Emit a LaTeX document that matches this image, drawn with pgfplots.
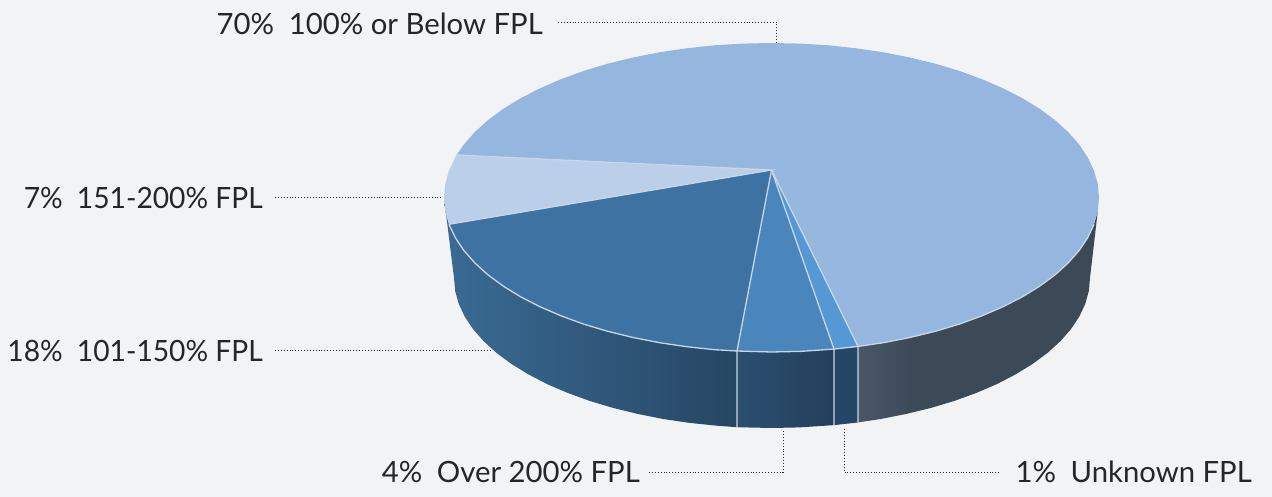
\documentclass[border=0pt]{standalone}
\usepackage{fontspec}
\setmainfont{Lato}
\usepackage{graphicx}
\usepackage{pgfplots}
\pgfplotsset{compat=1.18}
\definecolor{bg}{HTML}{F2F3F5}
\definecolor{big}{HTML}{95B6DF}
\definecolor{light}{HTML}{BBCFE8}
\definecolor{dark}{HTML}{3E72A3}
\definecolor{mid}{HTML}{4A85BC}
\definecolor{small}{HTML}{5698D4}
\definecolor{rim}{HTML}{C9D6E6}
\definecolor{ink}{HTML}{262626}
\definecolor{wallA}{HTML}{3A6B94}
\definecolor{wallB}{HTML}{264663}
\definecolor{wallC}{HTML}{2B4F70}
\definecolor{wallD}{HTML}{243F5B}
\definecolor{wallE}{HTML}{244667}
\definecolor{wallF}{HTML}{4B5769}
\definecolor{wallG}{HTML}{3C4A58}
\pgfdeclarehorizontalshading{bigwall}{100bp}{color(0bp)=(wallF); color(25bp)=(wallF); color(36bp)=(wallG); color(100bp)=(wallG)}
\tikzset{
    leader/.style={draw=ink, line width=0.9pt, dash pattern=on 0.9pt off 2pt},
    lab/.style={text=ink, font=\fontsize{29.3}{31}\selectfont, inner sep=0pt},
    edge/.style={draw=rim, line width=1.3pt},
}
\begin{document}
\begin{tikzpicture}
\begin{axis}[
    hide axis, scale only axis, width=1272pt, height=497pt,
    xmin=0, xmax=1272, ymin=0, ymax=497, y dir=reverse,
    no markers, enlargelimits=false,
]
\fill[bg] (axis cs:0,0) rectangle (axis cs:1272,497);

% side wall, 18%
\addplot[draw=none, left color=wallA, right color=wallB] coordinates {
 (444,197.5)(445.2,211)(449,224.3)(455.2,237.5)(463.7,250.3)(474.7,262.8)(487.9,274.8)(503.2,286.1)
 (520.6,296.8)(539.9,306.7)(561,315.8)(583.6,324.1)(607.7,331.3)(633.1,337.5)(659.5,342.7)(686.7,346.7)
 (714.6,349.7)(737,351)(737,427.2)(716.8,425.7)(689.7,422.9)(663.2,419)(637.6,413.9)(613,407.9)
 (589.6,400.9)(567.6,392.9)(547.1,384.1)(528.4,374.4)(511.5,364)(496.6,353)(483.8,341.4)(473.2,329.3)
 (464.8,316.8)(458.8,304)(455.2,291.1)(454,278)
} -- cycle;
% side wall, 4%
\addplot[draw=none, left color=wallC, right color=wallD] coordinates {
 (737,351)(742.9,351.4)(771.5,352)(800.1,351.4)(834,349.1)(834,425.1)(799.7,427.4)(772,428)(744.3,427.4)(737,427.2)
} -- cycle;
% side wall, 1%
\addplot[draw=none, fill=wallE] coordinates {
 (834,349.1)(856.3,346.7)(858,346.4)(858,422.4)(854.3,422.9)(834,425.1)
} -- cycle;
% side wall, 70%
\addplot[draw=none, shading=bigwall] coordinates {
 (858,346.4)(883.5,342.7)(909.9,337.5)(935.3,331.3)(959.4,324.1)(982,315.8)(1003.1,306.7)(1022.4,296.8)
 (1039.8,286.1)(1055.1,274.8)(1068.3,262.8)(1079.3,250.3)(1087.8,237.5)(1094,224.3)(1097.8,211)(1090,278)
 (1088.8,291.1)(1085.2,304)(1079.2,316.8)(1070.8,329.3)(1060.2,341.4)(1047.4,353)(1032.5,364)(1015.6,374.4)
 (996.9,384.1)(976.4,392.9)(954.4,400.9)(931,407.9)(906.4,413.9)(880.8,419)(858,422.4)
} -- cycle;

% top, 70%
\addplot[draw=none, fill=big] coordinates {
 (771.5,170)(456.7,155)(463.7,144.7)(474.7,132.2)(487.9,120.2)(503.2,108.9)(520.6,98.2)(539.9,88.3)
 (561,79.2)(583.6,70.9)(607.7,63.7)(633.1,57.5)(659.5,52.3)(686.7,48.3)(714.6,45.3)(742.9,43.6)(771.5,43)
 (800.1,43.6)(828.4,45.3)(856.3,48.3)(883.5,52.3)(909.9,57.5)(935.3,63.7)(959.4,70.9)(982,79.2)(1003.1,88.3)
 (1022.4,98.2)(1039.8,108.9)(1055.1,120.2)(1068.3,132.2)(1079.3,144.7)(1087.8,157.5)(1094,170.7)(1097.8,184)
 (1099,197.5)(1097.8,211)(1094,224.3)(1087.8,237.5)(1079.3,250.3)(1068.3,262.8)(1055.1,274.8)(1039.8,286.1)
 (1022.4,296.8)(1003.1,306.7)(982,315.8)(959.4,324.1)(935.3,331.3)(909.9,337.5)(883.5,342.7)(858,346.4)
} -- cycle;
% top, 7%
\addplot[draw=none, fill=light] coordinates {
 (771.5,170)(449,224.3)(445.2,211)(444,197.5)(445.2,184)(449,170.7)(455.2,157.5)(456.7,155)
} -- cycle;
% top, 18%
\addplot[draw=none, fill=dark] coordinates {
 (771.5,170)(737,351)(714.6,349.7)(686.7,346.7)(659.5,342.7)(633.1,337.5)(607.7,331.3)(583.6,324.1)(561,315.8)
 (539.9,306.7)(520.6,296.8)(503.2,286.1)(487.9,274.8)(474.7,262.8)(463.7,250.3)(455.2,237.5)(449,224.3)
} -- cycle;
% top, 4%
\addplot[draw=none, fill=mid] coordinates {
 (771.5,170)(834,349.1)(800.1,351.4)(771.5,352)(742.9,351.4)(737,351)
} -- cycle;
% top, 1%
\addplot[draw=none, fill=small] coordinates {
 (771.5,170)(858,346.4)(856.3,346.7)(834,349.1)
} -- cycle;

% slice borders and front rim
\addplot[edge] coordinates {(456.7,155)(771.5,170)(449,224.3)};
\addplot[edge] coordinates {(771.5,170)(737,351)(737,427.2)};
\addplot[edge] coordinates {(771.5,170)(834,349.1)(834,425.1)};
\addplot[edge] coordinates {(771.5,170)(858,346.4)(858,422.4)};
\addplot[edge] coordinates {
 (449,224.3)(455.2,237.5)(463.7,250.3)(474.7,262.8)(487.9,274.8)(503.2,286.1)(520.6,296.8)(539.9,306.7)
 (561,315.8)(583.6,324.1)(607.7,331.3)(633.1,337.5)(659.5,342.7)(686.7,346.7)(714.6,349.7)(737,351)
 (771.5,352)(800.1,351.4)(834,349.1)(858,346.4)(883.5,342.7)(909.9,337.5)(935.3,331.3)(959.4,324.1)(982,315.8)
 (1003.1,306.7)(1022.4,296.8)(1039.8,286.1)(1055.1,274.8)(1068.3,262.8)(1079.3,250.3)(1087.8,237.5)(1094,224.3)
};

% leaders
\addplot[leader] coordinates {(558,22)(776,22)(776,42)};
\addplot[leader] coordinates {(275,197)(443,197)};
\addplot[leader] coordinates {(275,350)(491,350)};
\addplot[leader] coordinates {(649,472)(783,472)(783,431)};
\addplot[leader] coordinates {(844,429)(844,472)(1000,472)};

\node[lab, anchor=east] at (axis cs:543,24) {70\%\hspace{0.5em}100\% or Below FPL};
\node[lab, anchor=east] at (axis cs:263,198) {\scalebox{0.963}[1]{7\%\hspace{0.5em}151-200\% FPL}};
\node[lab, anchor=east] at (axis cs:263,351) {\scalebox{0.963}[1]{18\%\hspace{0.5em}101-150\% FPL}};
\node[lab, anchor=east] at (axis cs:640,472) {4\%\hspace{0.5em}Over 200\% FPL};
\node[lab, anchor=east] at (axis cs:1252,472) {1\%\hspace{0.5em}Unknown FPL};
\end{axis}
\end{tikzpicture}
\end{document}
